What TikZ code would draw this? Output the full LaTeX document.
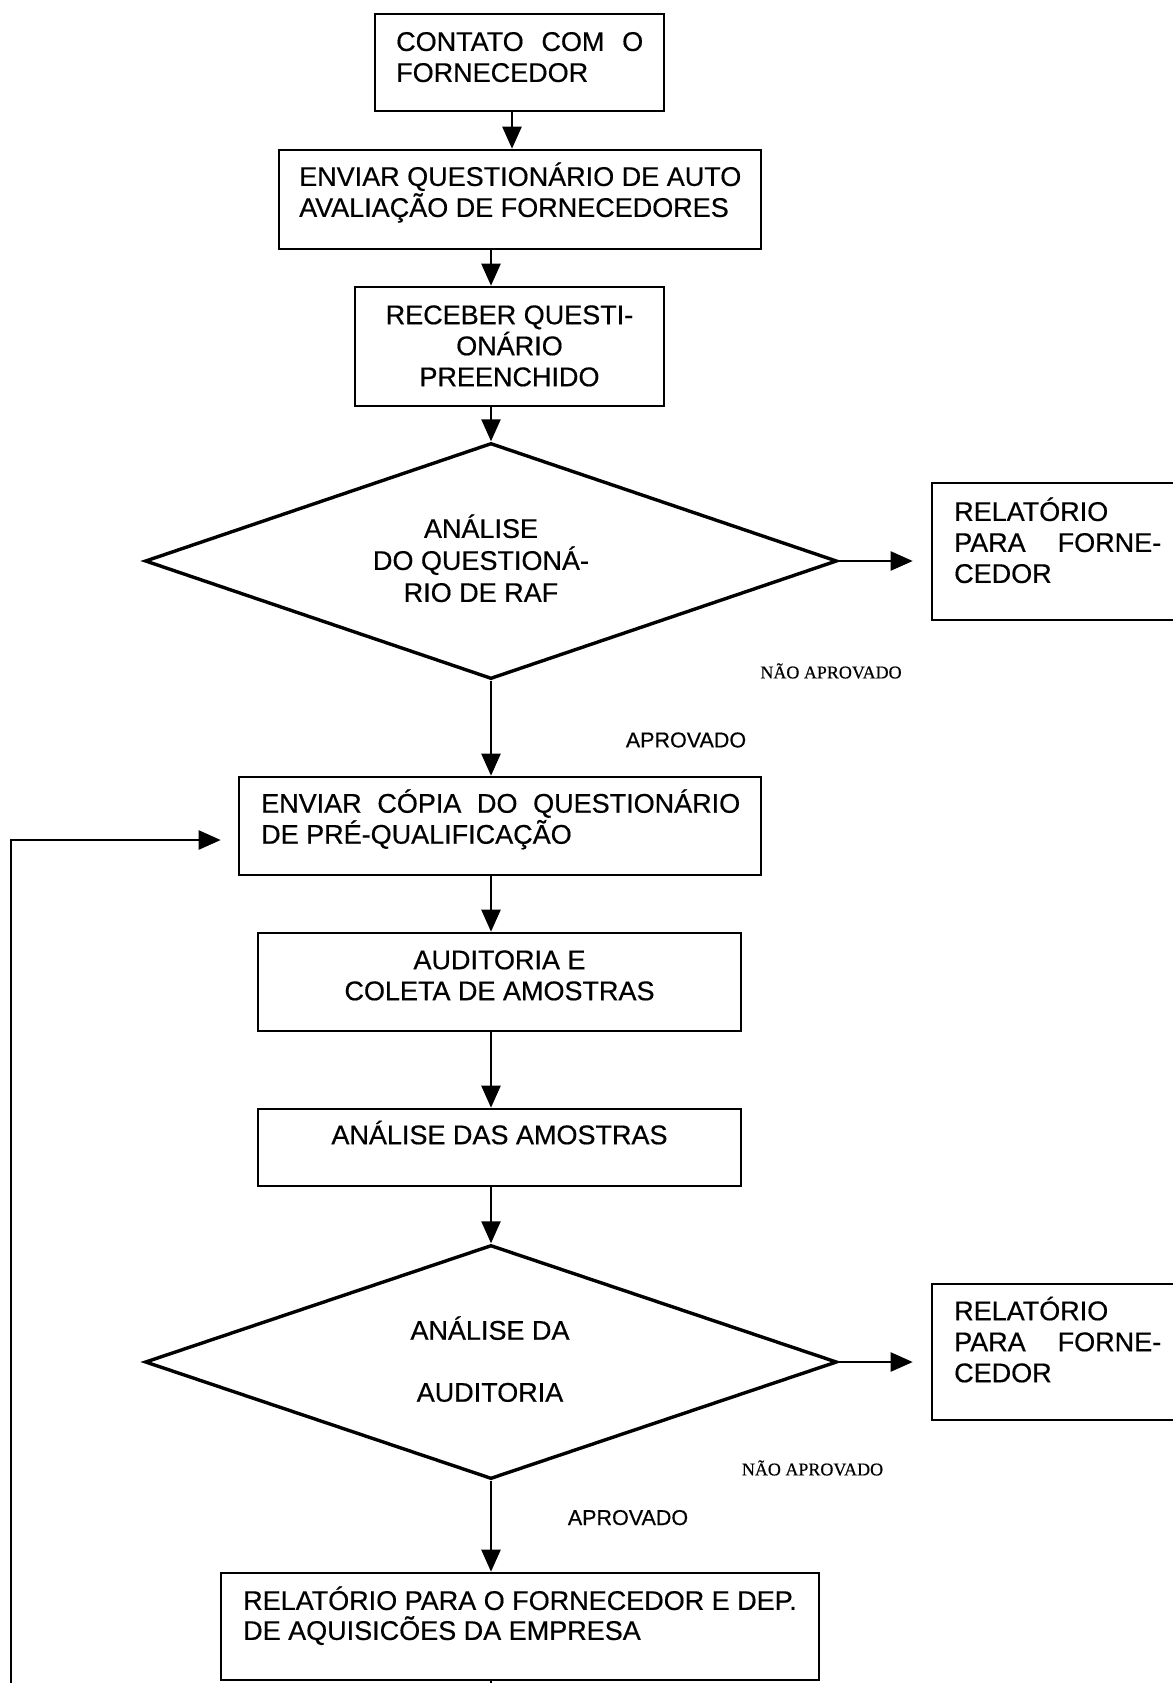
\documentclass[tikz,border=0pt]{standalone}
\usepackage{fontspec}
\setmainfont{Liberation Sans}[FakeBold=0.5]
\newfontfamily\serifrm{Liberation Serif}[FakeBold=0.5]
\usetikzlibrary{arrows.meta,shapes.geometric}
\begin{document}
\begin{tikzpicture}[x=1pt,y=-1pt,
  box/.style={draw,line width=2.6pt,inner sep=0pt},
  dia/.style={draw,diamond,line width=3.4pt,inner sep=0pt,minimum width=692pt,minimum height=236pt,aspect=2.93},
  txt/.style={inner sep=0pt,font=\fontsize{27}{31}\selectfont},
  lab/.style={inner sep=0pt,font=\fontsize{21.5}{24}\selectfont},
  nlab/.style={inner sep=0pt,font=\serifrm\fontsize{18}{20}\selectfont},
  arr/.style={-{Triangle[length=22pt,width=19pt]},line width=2.4pt},
  plain/.style={line width=2.4pt}]
\useasboundingbox (0,0) rectangle (1172,1683);
\def\S{\rule{0pt}{26pt}}
\coordinate (colA) at (512,0);
\coordinate (col) at (491,0);
% boxes
\node[box,minimum width=289pt,minimum height=97pt] (b1) at (519.5,62.5) {};
\node[box,minimum width=482pt,minimum height=99pt] (b2) at (520,199.5) {};
\node[box,minimum width=309pt,minimum height=119pt] (b3) at (509.5,346.5) {};
\node[dia] (d1) at (491,561) {};
\node[box,minimum width=253pt,minimum height=137pt] (r1) at (1058.5,551.5) {};
\node[box,minimum width=522pt,minimum height=98pt] (b4) at (500,826) {};
\node[box,minimum width=483pt,minimum height=98pt] (b5) at (499.5,982) {};
\node[box,minimum width=483pt,minimum height=77pt] (b6) at (499.5,1147.5) {};
\node[dia,minimum height=234pt] (d2) at (491,1362) {};
\node[box,minimum width=253pt,minimum height=136pt] (r2) at (1058.5,1352) {};
\node[box,minimum width=598pt,minimum height=107pt] (b7) at (520,1626.5) {};
% texts
\node[txt,anchor=north west,align=left] (t1) at (396,24.7) {\S\hbox to 247pt{CONTATO\hfill COM\hfill O}\\FORNECEDOR};
\node[txt,anchor=north west,align=left] (t2) at (299,159.7) {\S ENVIAR QUESTIONÁRIO DE AUTO\\AVALIAÇÃO DE FORNECEDORES};
\node[txt,anchor=north,align=center] (t3) at (509.5,298) {\S RECEBER QUESTI-\\ONÁRIO\\PREENCHIDO};
\node[txt,anchor=north,align=center,font=\fontsize{27}{32}\selectfont] (t4) at (481,511.7) {\S ANÁLISE\\DO QUESTIONÁ-\\RIO DE RAF};
\node[txt,anchor=north west,align=left] (t5) at (954,494.7) {\S RELATÓRIO\\\hbox to 207pt{PARA\hfill FORNE-}\\CEDOR};
\node[txt,anchor=north west,align=left] (t6) at (261,786.5) {\S\hbox to 479pt{ENVIAR\hfill CÓPIA\hfill DO\hfill QUESTIONÁRIO}\\DE PRÉ-QUALIFICAÇÃO};
\node[txt,anchor=north,align=center] (t7) at (499.5,943) {\S AUDITORIA E\\COLETA DE AMOSTRAS};
\node[txt,anchor=north,align=center] (t8) at (499.5,1118) {\S ANÁLISE DAS AMOSTRAS};
\node[txt,anchor=north,align=center,font=\fontsize{27}{62}\selectfont] (t9) at (490,1313.5) {\S ANÁLISE DA\\AUDITORIA};
\node[txt,anchor=north west,align=left] (t10) at (954,1294) {\S RELATÓRIO\\\hbox to 207pt{PARA\hfill FORNE-}\\CEDOR};
\node[txt,anchor=north west,align=left,font=\fontsize{27}{30}\selectfont] (t11) at (243,1583.7) {\S RELATÓRIO PARA O FORNECEDOR E DEP.\\DE AQUISICÕES DA EMPRESA};
% labels
\node[nlab] (n1) at (831,671) {NÃO APROVADO};
\node[lab] (a1) at (686,740) {APROVADO};
\node[nlab] (n2) at (812.5,1468) {NÃO APROVADO};
\node[lab] (a2) at (628,1517.6) {APROVADO};
% connectors
\draw[arr] (b1.south -| colA) -- (b2.north -| colA);
\draw[arr] (b2.south -| col) -- (b3.north -| col);
\draw[arr] (b3.south -| col) -- (d1.north);
\draw[arr] (d1.south) -- (b4.north -| col);
\draw[arr] (b4.south -| col) -- (b5.north -| col);
\draw[arr] (b5.south -| col) -- (b6.north -| col);
\draw[arr] (b6.south -| col) -- (d2.north);
\draw[arr] (d2.south) -- (b7.north -| col);
\draw[arr,shorten >=18pt] (d1.east) -- (d1.east -| r1.west);
\draw[arr,shorten >=18pt] (d2.east) -- (d2.east -| r2.west);
\coordinate (lp) at (11,1700);
\draw[arr,shorten >=17pt] (lp) |- ([yshift=-14pt]b4.west);
\coordinate (bend) at (491,1700);
\draw[plain] (b7.south -| col) -- (bend);
\end{tikzpicture}
\end{document}
